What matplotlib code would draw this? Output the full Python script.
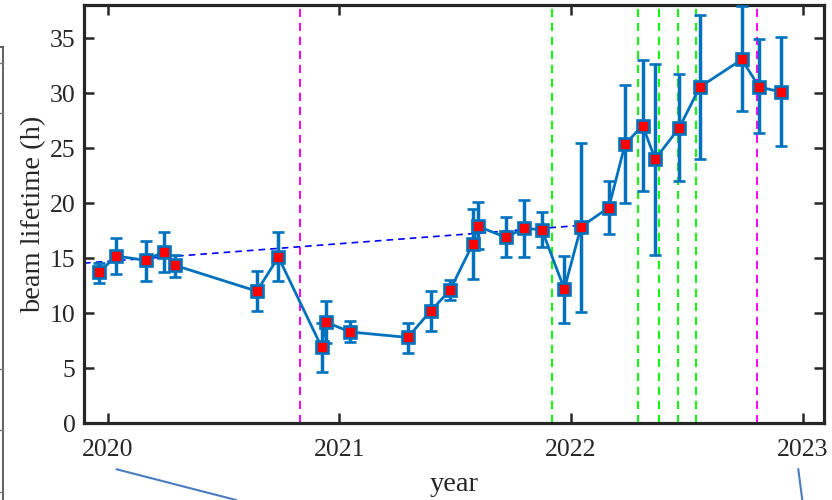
import matplotlib
matplotlib.use("Agg")
import matplotlib.pyplot as plt
from matplotlib.lines import Line2D
import numpy as np

# ---- data (decimal years) ----
t = [2019.963, 2020.036, 2020.166, 2020.242, 2020.291, 2020.644, 2020.737,
     2020.924, 2020.941, 2021.046, 2021.295, 2021.394, 2021.478, 2021.576,
     2021.597, 2021.718, 2021.797, 2021.874, 2021.971, 2022.043, 2022.163,
     2022.233, 2022.309, 2022.363, 2022.467, 2022.556, 2022.737, 2022.812,
     2022.907]
lifetime = [13.7, 15.2, 14.8, 15.6, 14.35, 12.0, 15.1,
            6.9, 9.2, 8.3, 7.8, 10.2, 12.1, 16.3,
            17.9, 16.9, 17.7, 17.6, 12.2, 17.85, 19.6,
            25.35, 27.05, 24.0, 26.85, 30.55, 33.05, 30.55,
            30.1]
err_low = [12.75, 13.6, 12.9, 13.75, 13.3, 10.2, 12.9,
           4.7, 7.3, 7.35, 6.35, 8.4, 11.2, 13.15,
           15.8, 15.1, 15.1, 16.0, 9.1, 10.15, 17.2,
           20.05, 21.1, 15.3, 22.0, 24.05, 28.4, 26.4,
           25.15]
err_high = [14.6, 16.8, 16.6, 17.4, 15.3, 13.8, 17.4,
            9.1, 11.1, 9.3, 9.15, 12.0, 13.0, 19.5,
            20.1, 18.75, 20.3, 19.2, 15.2, 25.5, 22.0,
            30.7, 33.0, 32.6, 31.7, 37.1, 37.9, 34.9,
            35.1]

fit_t = [2019.898, 2022.024]
fit_y = [14.55, 17.95]

magenta_t = [2020.830, 2022.801]
green_t = [2021.919, 2022.290, 2022.381, 2022.460, 2022.541]

xticks = [2020, 2021, 2022, 2023]
xtick_labels = ["2020", "2021", "2022", "2023"]
yticks = [0, 5, 10, 15, 20, 25, 30, 35]

# ---- figure ----
plt.rcParams['font.family'] = ['Liberation Serif', 'DejaVu Serif']
fig = plt.figure(figsize=(8.32, 5.0), dpi=100)
W, H = 832, 500
ax = fig.add_axes([84 / W, 1 - 423.3 / H, (824.3 - 84) / W, (423.3 - 5) / H])

blue = '#0072BD'
y = np.array(lifetime)
yerr = [y - np.array(err_low), np.array(err_high) - y]

for xv in magenta_t:
    ax.axvline(xv, color='#FF00FF', lw=1.4, ls=(0, (4.2, 3.0)), zorder=1)
for xv in green_t:
    ax.axvline(xv, color='#00FF00', lw=1.4, ls=(0, (4.2, 3.0)), zorder=1)

ax.plot(fit_t, fit_y, color='#0000FF', lw=1.2, ls=(0, (4, 3)), zorder=2)

ax.errorbar(t, y, yerr=yerr, color=blue, lw=2.0, elinewidth=2.5,
            capsize=4.5, capthick=2.5, marker='s', markersize=8.2,
            markerfacecolor='#FF0000', markeredgecolor=blue,
            markeredgewidth=1.9, zorder=3)

ax.set_xlim(2019.898, 2023.093)
ax.set_ylim(0, 38)
ax.set_xticks(xticks)
ax.set_xticklabels(xtick_labels)
ax.set_yticks(yticks)

ax.tick_params(direction='in', length=7, width=1.8, colors='#262626',
               labelsize=18.5, top=True, right=True)
ax.tick_params(axis='x', pad=11.5)
ax.tick_params(axis='y', pad=6)
for s in ax.spines.values():
    s.set_linewidth(2.3)
    s.set_color('#262626')

ax.set_xlabel('year', fontsize=20.5, color='#262626', labelpad=8)
ax.set_ylabel('beam lifetime (h)', fontsize=20.5, color='#262626', labelpad=3)

# ---- pieces of the surrounding figure ----
def fpx(x, yy):
    return x / W, 1 - yy / H

gx0, gy0 = fpx(2.5, 47)
gx1, gy1 = fpx(2.5, 500)
fig.add_artist(Line2D([gx0, gx1], [gy0, gy1], color='#555555', lw=1.3))
hx0, hy0 = fpx(0, 47)
fig.add_artist(Line2D([hx0, gx0], [hy0, gy0], color='#555555', lw=1.3))
for ty in [63, 113, 369, 430, 492]:
    a0, b0 = fpx(0, ty)
    a1, b1 = fpx(2.5, ty)
    fig.add_artist(Line2D([a0, a1], [b0, b1], color='#777777', lw=1.0))

a0, b0 = fpx(116.7, 469.3)
a1, b1 = fpx(236.0, 500)
fig.add_artist(Line2D([a0, a1], [b0, b1], color='#4A7CC0', lw=1.5))
a0, b0 = fpx(798.3, 469.3)
a1, b1 = fpx(802.3, 500)
fig.add_artist(Line2D([a0, a1], [b0, b1], color='#4A7CC0', lw=1.5))

fig.savefig('out.png', dpi=100)
